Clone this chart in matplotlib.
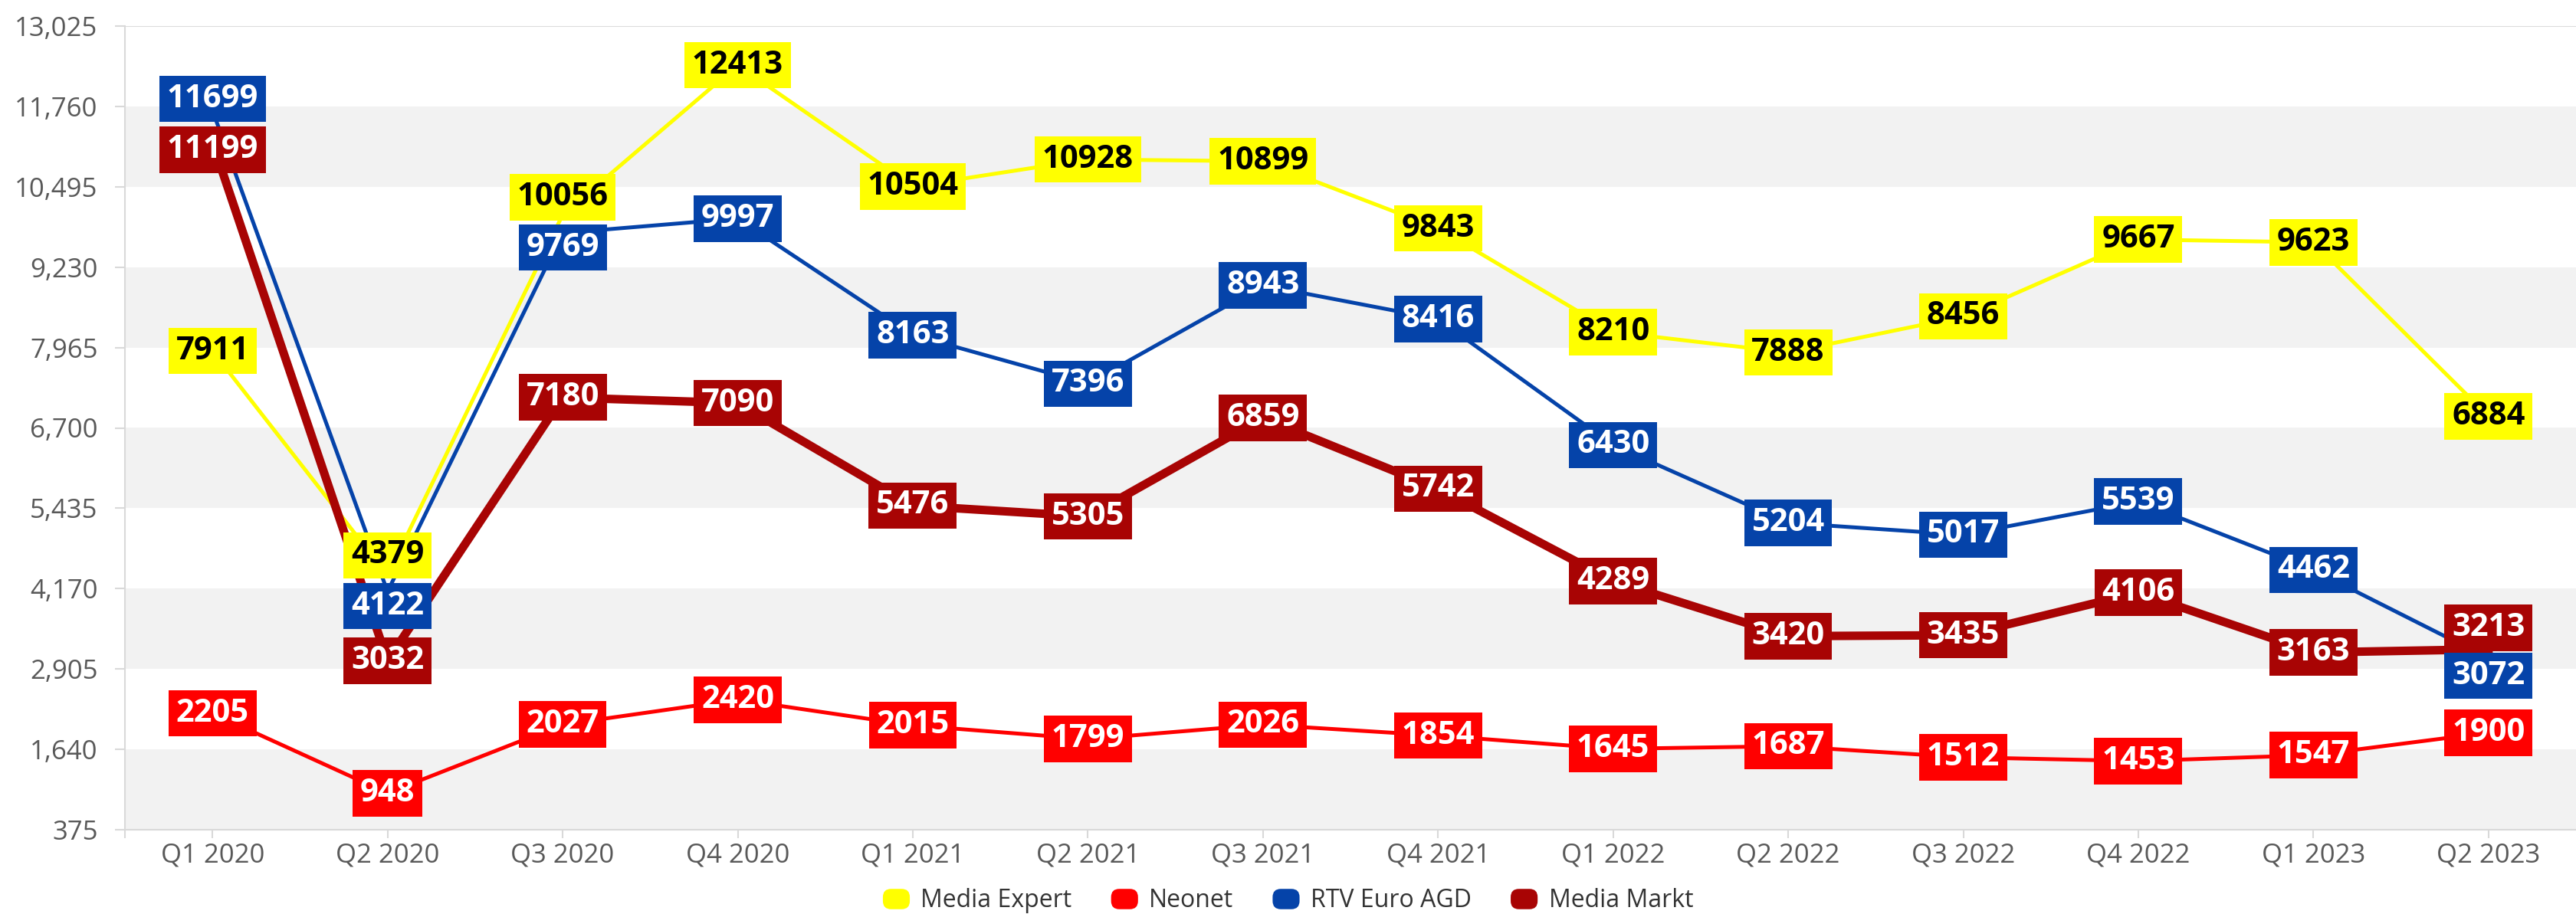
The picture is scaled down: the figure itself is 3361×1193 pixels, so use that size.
import matplotlib
matplotlib.use("Agg")
import matplotlib.pyplot as plt
from matplotlib.patches import Patch, FancyBboxPatch
from matplotlib.legend_handler import HandlerPatch

plt.rcParams['font.family'] = ['Open Sans', 'DejaVu Sans']

# data
quarters = ['Q1 2020', 'Q2 2020', 'Q3 2020', 'Q4 2020', 'Q1 2021', 'Q2 2021', 'Q3 2021',
            'Q4 2021', 'Q1 2022', 'Q2 2022', 'Q3 2022', 'Q4 2022', 'Q1 2023', 'Q2 2023']
media_expert = [7911, 4379, 10056, 12413, 10504, 10928, 10899, 9843, 8210, 7888, 8456, 9667, 9623, 6884]
neonet = [2205, 948, 2027, 2420, 2015, 1799, 2026, 1854, 1645, 1687, 1512, 1453, 1547, 1900]
rtv_euro_agd = [11699, 4122, 9769, 9997, 8163, 7396, 8943, 8416, 6430, 5204, 5017, 5539, 4462, 3072]
media_markt = [11199, 3032, 7180, 7090, 5476, 5305, 6859, 5742, 4289, 3420, 3435, 4106, 3163, 3213]
y_ticks = [375, 1640, 2905, 4170, 5435, 6700, 7965, 9230, 10495, 11760, 13025]

# name, values, colour, label text colour, line width (pt)
series = [
    ('Media Expert', media_expert, '#FFFF00', 'black', 3.6),
    ('Neonet', neonet, '#FF0000', 'white', 3.6),
    ('RTV Euro AGD', rtv_euro_agd, '#0543A9', 'white', 3.6),
    ('Media Markt', media_markt, '#A80404', 'white', 8.0),
]

# label nudges (pixels, + is up) where boxes would collide
label_shift = {
    ('RTV Euro AGD', 0): 15, ('Media Markt', 0): -10,
    ('Media Expert', 1): 26, ('RTV Euro AGD', 1): -19,
    ('Media Expert', 2): 23, ('RTV Euro AGD', 2): -19,
    ('Media Markt', 13): 28, ('RTV Euro AGD', 13): -23,
}

W, H = 3361, 1193
fig = plt.figure(figsize=(W / 100, H / 100), dpi=100)
ax = fig.add_axes([163 / W, 1 - 1082.7 / H, 1 - 163 / W, (1082.7 - 34.3) / H])

x = list(range(len(quarters)))

# alternating bands
for lo, hi in zip(y_ticks[0::2], y_ticks[1::2]):
    ax.axhspan(lo, hi, color='#F2F2F2', zorder=0, lw=0)
ax.axhline(y_ticks[-1], color='#DCDCDC', lw=1.5, zorder=1)

for name, vals, col, tcol, lw in series:
    ax.plot(x, vals, color=col, lw=lw, solid_joinstyle='round', zorder=2)

for name, vals, col, tcol, lw in series:
    for i, v in enumerate(vals):
        ax.annotate(str(v), (i, v), xytext=(0, label_shift.get((name, i), 0)),
                    textcoords='offset pixels', ha='center', va='center',
                    fontsize=30, fontweight='bold', color=tcol, zorder=5,
                    bbox=dict(boxstyle='square,pad=0.235', fc=col, ec='none'))

ax.set_xlim(-0.5, len(quarters) - 0.5)
ax.set_ylim(y_ticks[0], y_ticks[-1])
ax.set_xticks(x)
ax.set_xticklabels(quarters)
ax.set_xticks([-0.5], minor=True)
ax.set_yticks(y_ticks)
ax.set_yticklabels([f'{t:,}' for t in y_ticks])

for s in ['top', 'right']:
    ax.spines[s].set_visible(False)
for s in ['left', 'bottom']:
    ax.spines[s].set_color('#D9D9D9')
    ax.spines[s].set_linewidth(1.5)

ax.tick_params(axis='x', which='both', length=8, width=1.5, color='#D9D9D9',
               labelsize=25, labelcolor='#595959', pad=4)
ax.tick_params(axis='y', length=9.5, width=1.5, color='#D9D9D9',
               labelsize=25, labelcolor='#595959', pad=16)


def rounded_box(legend, orig_handle, xdescent, ydescent, width, height, fontsize):
    return FancyBboxPatch((-xdescent, -ydescent), width, height,
                          boxstyle='round,pad=0,rounding_size=%f' % (height * 0.4))


handles = [Patch(fc=col, ec='none', label=name) for name, vals, col, tcol, lw in series]
fig.legend(handles=handles, loc='center', bbox_to_anchor=(0.5, 1 - 1176 / H), ncol=4,
           frameon=False, fontsize=23, labelcolor='#333333',
           handlelength=1.1, handleheight=0.9, handletextpad=0.45, columnspacing=1.6,
           handler_map={Patch: HandlerPatch(patch_func=rounded_box)})

fig.savefig('out.png', dpi=100)
